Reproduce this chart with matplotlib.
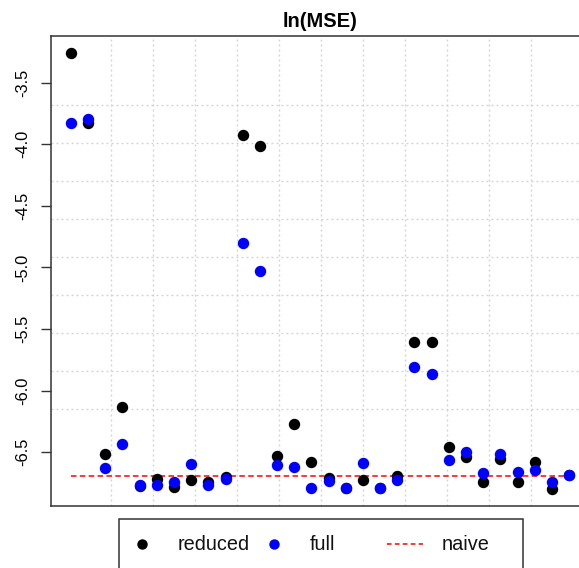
import matplotlib
matplotlib.use("Agg")
import matplotlib.pyplot as plt
import numpy as np
from matplotlib.lines import Line2D
from matplotlib.patches import Rectangle

plt.rcParams['font.family'] = ['Liberation Sans', 'DejaVu Sans']

# values (ln MSE per setting)
idx = np.arange(1, 31)
reduced = [-3.26, -3.83, -6.515, -6.134, -6.77, -6.715, -6.78, -6.723, -6.745, -6.698,
           -3.927, -4.014, -6.528, -6.269, -6.577, -6.709, -6.79, -6.723, -6.79, -6.696,
           -5.605, -5.605, -6.455, -6.539, -6.745, -6.553, -6.745, -6.583, -6.795, -6.685]
full = [-3.827, -3.795, -6.631, -6.434, -6.766, -6.769, -6.739, -6.599, -6.763, -6.715,
        -4.80, -5.029, -6.604, -6.62, -6.788, -6.731, -6.788, -6.588, -6.788, -6.723,
        -5.805, -5.861, -6.561, -6.498, -6.669, -6.515, -6.658, -6.642, -6.741, -6.682]
naive = -6.69
yticks = [-3.5, -4.0, -4.5, -5.0, -5.5, -6.0, -6.5]

W, H = 579, 568
fig = plt.figure(figsize=(W / 100, H / 100), dpi=100)
ax = fig.add_axes([51 / W, 62 / H, 538 / W, 470.3 / H])

# R-style 4% padding on both axes
allv = np.concatenate([reduced, full])
ypad = 0.04 * (allv.max() - allv.min())
xpad = 0.04 * (idx.max() - idx.min())
ax.set_xlim(idx.min() - xpad, idx.max() + xpad)
ax.set_ylim(allv.min() - ypad, allv.max() + ypad)

# dotted grid (not aligned with ticks in the original)
for gx in np.arange(3.33, 28.5, 2.443):
    ax.axvline(gx, color='#D3D3D3', lw=1, dashes=(1.4, 2.2), zorder=0)
for gy in np.arange(-3.678, -6.2, -0.3084):
    ax.axhline(gy, color='#D3D3D3', lw=1, dashes=(1.4, 2.2), zorder=0)

ax.plot(idx, [naive] * len(idx), color='red', lw=1.1, dashes=(3.6, 2.2), zorder=2)
ax.plot(idx, reduced, 'o', color='black', ms=7.2, zorder=3)
ax.plot(idx, full, 'o', color='blue', ms=7.2, zorder=4)

ax.set_title("ln(MSE)", fontsize=14.5, fontweight='bold', pad=6.5)
ax.set_xticks([])
ax.set_yticks(yticks)
ax.set_yticklabels(["%.1f" % v for v in yticks])
ax.tick_params(axis='y', length=7.2, width=1, pad=7.5, labelsize=11.8, color='#333333')
for lab in ax.get_yticklabels():
    lab.set_rotation(90)
    lab.set_va('center')
for s in ax.spines.values():
    s.set_color('#333333')
    s.set_linewidth(1.1)

# legend box drawn below the plot (cropped at the bottom like the original)
def fx(px):
    return px / W

def fy(py):
    return 1 - py / H

fig.add_artist(Rectangle((fx(119), fy(580)), fx(523) - fx(119), fy(519.3) - fy(580),
                         transform=fig.transFigure, fill=False, edgecolor='#333333', lw=1.1))
ly = fy(544.3)
fig.add_artist(Line2D([fx(141.7)], [ly], marker='o', color='black', ms=6.5, transform=fig.transFigure))
fig.add_artist(Line2D([fx(274)], [ly], marker='o', color='blue', ms=6.5, transform=fig.transFigure))
fig.add_artist(Line2D([fx(387.3), fx(423.3)], [ly, ly], color='red', lw=1.1, dashes=(3.0, 2.2),
                      transform=fig.transFigure))
for px, txt in [(177.3, "reduced"), (309.3, "full"), (441.3, "naive")]:
    fig.text(fx(px), ly, txt, fontsize=14.3, ha='left', va='center', color='#111111')

fig.savefig("out.png", dpi=100)
